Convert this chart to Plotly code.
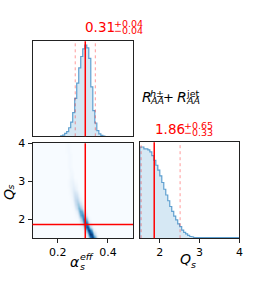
import plotly.graph_objects as go

W, H = 270, 297

# ---------------- data ----------------
param_names = ["alpha", "Qs"]
best_fit = [0.31, 1.86]
err_plus = [0.04, 0.65]
err_minus = [0.04, 0.33]

alpha_edges = [0.212, 0.220, 0.228, 0.236, 0.244, 0.252, 0.260, 0.268, 0.276, 0.284,
               0.292, 0.300, 0.308, 0.316, 0.324, 0.332, 0.340, 0.348, 0.356, 0.364,
               0.372, 0.380, 0.388]
alpha_counts = [0.005, 0.012, 0.03, 0.05, 0.09, 0.15, 0.25, 0.40, 0.56, 0.72,
                0.84, 0.92, 0.96, 0.93, 0.82, 0.52, 0.27, 0.14, 0.06, 0.025,
                0.01, 0.003]

qs_edges = [1.50, 1.55, 1.60, 1.65, 1.70, 1.75, 1.80, 1.85, 1.90, 1.95,
            2.00, 2.05, 2.10, 2.15, 2.20, 2.25, 2.30, 2.35, 2.40, 2.45,
            2.50, 2.55, 2.60, 2.65, 2.70, 2.75, 2.80, 2.85, 2.90, 2.95,
            3.00, 3.05, 3.10, 3.15, 3.20, 3.25, 3.30, 3.35, 3.40, 3.45,
            3.50, 3.55, 3.60, 3.65, 3.70, 3.75, 3.80, 3.85, 3.90, 3.95, 4.00]
qs_counts = [0.95, 0.95, 0.93, 0.93, 0.92, 0.90, 0.86, 0.81, 0.76, 0.71,
             0.65, 0.58, 0.51, 0.45, 0.39, 0.33, 0.28, 0.23, 0.19, 0.15,
             0.12, 0.085, 0.06, 0.045, 0.03, 0.02, 0.013, 0.009, 0.007, 0.005,
             0.004, 0.004, 0.003, 0.003, 0.003, 0.003, 0.003, 0.003, 0.003, 0.003,
             0.003, 0.003, 0.003, 0.003, 0.003, 0.004, 0.004, 0.004, 0.005, 0.006]

# 2D density grid: columns = alpha, rows = Qs
dens_alpha = [0.235, 0.240, 0.245, 0.250, 0.255, 0.260, 0.265, 0.270, 0.275, 0.280,
              0.285, 0.290, 0.295, 0.300, 0.305, 0.310, 0.315, 0.320, 0.325, 0.330,
              0.335, 0.340, 0.345, 0.350, 0.355, 0.360]
dens_qs = [1.5, 1.6, 1.7, 1.8, 1.9, 2.0, 2.1, 2.2, 2.3, 2.4, 2.5, 2.6, 2.7,
           2.8, 2.9, 3.0, 3.1, 3.2, 3.3, 3.4, 3.5, 3.6, 3.7, 3.8, 3.9, 4.0]
dens_z = [
    # .235 .24 .245 .25 .255 .26 .265 .27 .275 .28 .285 .29 .295 .30 .305 .31 .315 .32 .325 .33 .335 .34 .345 .35 .355 .36
    [0, 0, 0, 0, 0, 0, 0, 0, 0, 0, 0, 0, 0, 0, 0, 1, 3, 11, 30, 61, 91, 99, 80, 47, 21, 7],   # 1.5
    [0, 0, 0, 0, 0, 0, 0, 0, 0, 0, 0, 0, 0, 0, 1, 5, 17, 41, 74, 98, 95, 67, 35, 14, 4, 1],   # 1.6
    [0, 0, 0, 0, 0, 0, 0, 0, 0, 0, 0, 0, 0, 2, 8, 24, 53, 84, 98, 84, 53, 24, 8, 2, 0, 0],    # 1.7
    [0, 0, 0, 0, 0, 0, 0, 0, 0, 0, 0, 1, 3, 12, 32, 62, 87, 90, 68, 38, 15, 5, 1, 0, 0, 0],   # 1.8
    [0, 0, 0, 0, 0, 0, 0, 0, 0, 0, 1, 6, 18, 40, 68, 84, 77, 52, 25, 9, 2, 0, 0, 0, 0, 0],    # 1.9
    [0, 0, 0, 0, 0, 0, 0, 0, 0, 2, 6, 19, 41, 65, 76, 65, 41, 19, 6, 2, 0, 0, 0, 0, 0, 0],    # 2.0
    [0, 0, 0, 0, 0, 0, 0, 1, 3, 9, 23, 44, 62, 64, 49, 27, 11, 3, 1, 0, 0, 0, 0, 0, 0, 0],    # 2.1
    [0, 0, 0, 0, 0, 0, 1, 3, 9, 23, 41, 55, 53, 38, 20, 8, 2, 0, 0, 0, 0, 0, 0, 0, 0, 0],     # 2.2
    [0, 0, 0, 0, 0, 1, 3, 9, 22, 37, 46, 42, 28, 14, 5, 1, 0, 0, 0, 0, 0, 0, 0, 0, 0, 0],     # 2.3
    [0, 0, 0, 0, 1, 2, 8, 18, 30, 37, 34, 22, 11, 4, 1, 0, 0, 0, 0, 0, 0, 0, 0, 0, 0, 0],     # 2.4
    [0, 0, 0, 0, 2, 6, 14, 23, 29, 26, 18, 9, 3, 1, 0, 0, 0, 0, 0, 0, 0, 0, 0, 0, 0, 0],      # 2.5
    [0, 0, 0, 1, 4, 9, 16, 21, 21, 15, 8, 3, 1, 0, 0, 0, 0, 0, 0, 0, 0, 0, 0, 0, 0, 0],       # 2.6
    [0, 0, 1, 2, 6, 11, 15, 16, 12, 7, 3, 1, 0, 0, 0, 0, 0, 0, 0, 0, 0, 0, 0, 0, 0, 0],       # 2.7
    [0, 0, 1, 3, 7, 10, 11, 9, 5, 2, 1, 0, 0, 0, 0, 0, 0, 0, 0, 0, 0, 0, 0, 0, 0, 0],         # 2.8
    [0, 1, 2, 4, 6, 8, 7, 5, 3, 1, 0, 0, 0, 0, 0, 0, 0, 0, 0, 0, 0, 0, 0, 0, 0, 0],           # 2.9
    [0, 1, 2, 4, 6, 6, 4, 2, 1, 0, 0, 0, 0, 0, 0, 0, 0, 0, 0, 0, 0, 0, 0, 0, 0, 0],           # 3.0
    [0, 0, 1, 3, 4, 3, 1, 0, 0, 0, 0, 0, 0, 0, 0, 0, 0, 0, 0, 0, 0, 0, 0, 0, 0, 0],           # 3.1
    [0, 0, 1, 2, 3, 2, 1, 0, 0, 0, 0, 0, 0, 0, 0, 0, 0, 0, 0, 0, 0, 0, 0, 0, 0, 0],           # 3.2
    [0, 0, 1, 3, 2, 1, 0, 0, 0, 0, 0, 0, 0, 0, 0, 0, 0, 0, 0, 0, 0, 0, 0, 0, 0, 0],           # 3.3
    [0, 1, 2, 2, 1, 0, 0, 0, 0, 0, 0, 0, 0, 0, 0, 0, 0, 0, 0, 0, 0, 0, 0, 0, 0, 0],           # 3.4
    [0, 1, 2, 2, 1, 0, 0, 0, 0, 0, 0, 0, 0, 0, 0, 0, 0, 0, 0, 0, 0, 0, 0, 0, 0, 0],           # 3.5
    [0, 1, 2, 2, 1, 0, 0, 0, 0, 0, 0, 0, 0, 0, 0, 0, 0, 0, 0, 0, 0, 0, 0, 0, 0, 0],           # 3.6
    [0, 1, 2, 2, 1, 0, 0, 0, 0, 0, 0, 0, 0, 0, 0, 0, 0, 0, 0, 0, 0, 0, 0, 0, 0, 0],           # 3.7
    [1, 2, 2, 1, 0, 0, 0, 0, 0, 0, 0, 0, 0, 0, 0, 0, 0, 0, 0, 0, 0, 0, 0, 0, 0, 0],           # 3.8
    [1, 2, 2, 1, 0, 0, 0, 0, 0, 0, 0, 0, 0, 0, 0, 0, 0, 0, 0, 0, 0, 0, 0, 0, 0, 0],           # 3.9
    [1, 2, 1, 1, 0, 0, 0, 0, 0, 0, 0, 0, 0, 0, 0, 0, 0, 0, 0, 0, 0, 0, 0, 0, 0, 0],           # 4.0
]

alpha_ticks = [0.2, 0.4]
qs_ticks = [2, 3, 4]
alpha_range = [0.1, 0.5]
qs_range = [1.5, 4.0]

# ---------------- styling ----------------
FONT = "DejaVu Sans"
RED = "#ff0000"
HIST_LINE = "#5fa0d0"
HIST_FILL = "rgba(107,174,214,0.28)"
FRAME = "#222222"
BLUES = [[0.0, "#f7fbff"], [0.125, "#deebf7"], [0.25, "#c6dbef"], [0.375, "#9ecae1"],
         [0.5, "#6baed6"], [0.625, "#4292c6"], [0.75, "#2171b5"], [0.875, "#08519c"],
         [1.0, "#08306b"]]


def px(x):
    return x / W


def py(y):
    return 1 - y / H


def step_xy(edges, counts):
    xs = [edges[0]]
    ys = [0]
    for i, c in enumerate(counts):
        xs += [edges[i], edges[i + 1]]
        ys += [c, c]
    xs.append(edges[-1])
    ys.append(0)
    return xs, ys


fig = go.Figure()

ax, ay = step_xy(alpha_edges, alpha_counts)
fig.add_trace(go.Scatter(x=ax, y=ay, mode="lines", line=dict(color=HIST_LINE, width=1.2),
                         fill="tozeroy", fillcolor=HIST_FILL, xaxis="x", yaxis="y",
                         hoverinfo="skip", showlegend=False))

fig.add_trace(go.Heatmap(x=dens_alpha, y=dens_qs, z=dens_z, colorscale=BLUES, zmin=0, zmax=100,
                         zsmooth="best", showscale=False, xaxis="x2", yaxis="y2",
                         hoverinfo="skip"))

qx, qy = step_xy(qs_edges, qs_counts)
fig.add_trace(go.Scatter(x=qx, y=qy, mode="lines", line=dict(color=HIST_LINE, width=1.2),
                         fill="tozeroy", fillcolor=HIST_FILL, xaxis="x3", yaxis="y3",
                         hoverinfo="skip", showlegend=False))

frame = dict(showline=True, linecolor=FRAME, linewidth=1, mirror=True, showgrid=False,
             zeroline=False, tickfont=dict(family=FONT, size=11, color="black"))

dom_x_left = [px(33), px(135)]
dom_x_right = [px(142), px(243)]

fig.update_layout(
    width=W, height=H, margin=dict(l=0, r=0, t=0, b=0), autosize=False,
    paper_bgcolor="white", plot_bgcolor="#f7fbff",
    xaxis=dict(domain=dom_x_left, range=alpha_range, anchor="y", showticklabels=False,
               ticks="", **frame),
    yaxis=dict(domain=[py(133), py(36)], range=[0, 1], anchor="x", showticklabels=False,
               ticks="", **frame),
    xaxis2=dict(domain=dom_x_left, range=alpha_range, anchor="y2", tickvals=alpha_ticks,
                ticktext=[f"{v:.1f}" for v in alpha_ticks],
                ticks="outside", ticklen=4, tickcolor=FRAME, **frame),
    yaxis2=dict(domain=[py(237), py(140)], range=qs_range, anchor="x2", tickvals=qs_ticks,
                ticks="outside", ticklen=4, tickcolor=FRAME, **frame),
    xaxis3=dict(domain=dom_x_right, range=qs_range, anchor="y3", tickvals=qs_ticks,
                ticks="outside", ticklen=4, tickcolor=FRAME, **frame),
    yaxis3=dict(domain=[py(237), py(139)], range=[0, 1], anchor="x3", showticklabels=False,
                ticks="", **frame),
)

# white background for histogram panels
for xa, ya in [("x", "y"), ("x3", "y3")]:
    fig.add_shape(type="rect", xref=f"{xa} domain", yref=f"{ya} domain", x0=0, x1=1, y0=0, y1=1,
                  fillcolor="white", line=dict(width=0), layer="below")

# best-fit and interval lines
def vline(xref, yref, xv, dashed=False):
    fig.add_shape(type="line", xref=xref, yref=yref, x0=xv, x1=xv, y0=0, y1=1, layer="above",
                  line=dict(color="rgba(255,0,0,0.4)" if dashed else RED,
                            width=1 if dashed else 1.5, dash="dot" if dashed else "solid"))


vline("x", "y domain", best_fit[0])
vline("x", "y domain", best_fit[0] - err_minus[0], dashed=True)
vline("x", "y domain", best_fit[0] + err_plus[0], dashed=True)
vline("x2", "y2 domain", best_fit[0])
fig.add_shape(type="line", xref="x2 domain", yref="y2", x0=0, x1=1, y0=best_fit[1], y1=best_fit[1],
              layer="above", line=dict(color=RED, width=1.5))
vline("x3", "y3 domain", best_fit[1])
vline("x3", "y3 domain", best_fit[1] - err_minus[1], dashed=True)
vline("x3", "y3 domain", best_fit[1] + err_plus[1], dashed=True)

DY = -4  # text baseline correction


def ann(text, x, y, size, xanchor="left", yanchor="middle", color="black", angle=0, dy=DY):
    fig.add_annotation(text=text, x=px(x), y=py(y + dy), xref="paper", yref="paper",
                       xanchor=xanchor, yanchor=yanchor, showarrow=False, textangle=angle,
                       font=dict(family=FONT, size=size, color=color), borderpad=0)


SMALL = 9.5
# titles
ann(f"{best_fit[0]:.2f}", 85, 25.5, 13.5, color=RED)
ann(f"+{err_plus[0]:.2f}", 114.5, 21.5, SMALL, color=RED)
ann(f"\u2212{err_minus[0]:.2f}", 114.5, 29.5, SMALL, color=RED)
ann(f"{best_fit[1]:.2f}", 156, 130, 13.5, color=RED)
ann(f"+{err_plus[1]:.2f}", 185.5, 126, SMALL, color=RED)
ann(f"\u2212{err_minus[1]:.2f}", 185.5, 133.5, SMALL, color=RED)

# dataset label
ann("<i>R</i>", 143, 97, 14)
ann("<i>h</i>\u00b1", 151.5, 93.3, SMALL)
ann("<i>AA</i>", 151.5, 100.5, SMALL)
ann("+", 171.5, 97, 13, xanchor="center")
ann("<i>R</i>", 179, 97, 14)
ann("jet", 188, 93, SMALL)
ann("<i>AA</i>", 188, 100.5, SMALL)

# axis labels
ann("<i>\u03b1</i>", 76.5, 265.5, 14, xanchor="center")
ann("<i>eff</i>", 80.5, 260, SMALL)
ann("<i>s</i>", 80, 269.5, SMALL)
ann("<i>Q</i>", 188.5, 262, 14, xanchor="center")
ann("<i>s</i>", 193, 268, SMALL)
ann("<i>Q</i>", 9, 192, 14, xanchor="center", angle=-90, dy=0)
ann("<i>s</i>", 11, 184.5, SMALL, xanchor="center", angle=-90, dy=0)

fig.write_html("out.html", config={"displayModeBar": False},
               post_script="document.body.style.margin='0';")
